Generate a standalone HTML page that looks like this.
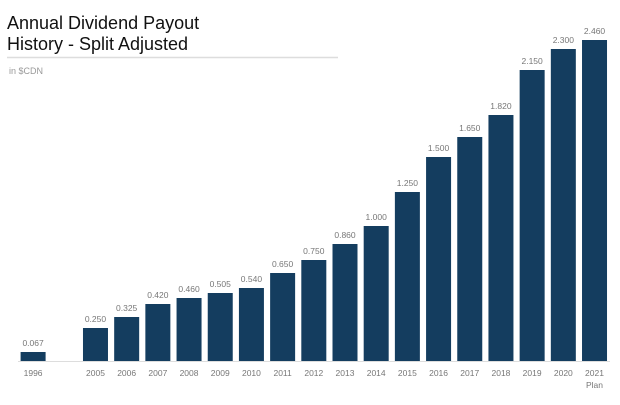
<!DOCTYPE html>
<html><head><style>
body{margin:0;width:620px;height:400px;background:#fff;overflow:hidden;font-family:"Liberation Sans",sans-serif;}
</style></head><body>
<svg width="620" height="400" xmlns="http://www.w3.org/2000/svg" font-family="Liberation Sans, sans-serif">
<text x="7" y="29" font-size="18" fill="#111">Annual Dividend Payout</text>
<text x="7" y="50" font-size="18" fill="#111">History - Split Adjusted</text>
<line x1="7" y1="57.5" x2="338" y2="57.5" stroke="#ddd" stroke-width="1.5"/>
<text x="9" y="74" font-size="9" fill="#999">in $CDN</text>
<line x1="18" y1="361.5" x2="610" y2="361.5" stroke="#ddd" stroke-width="1"/>
<g id="bars"></g>
</svg>
<script>
var d=[[0,"1996",352,"0.067"],[2,"2005",328,"0.250"],[3,"2006",317,"0.325"],[4,"2007",304,"0.420"],[5,"2008",298,"0.460"],[6,"2009",293,"0.505"],[7,"2010",288,"0.540"],[8,"2011",273,"0.650"],[9,"2012",260,"0.750"],[10,"2013",244,"0.860"],[11,"2014",226,"1.000"],[12,"2015",192,"1.250"],[13,"2016",157,"1.500"],[14,"2017",137,"1.650"],[15,"2018",115,"1.820"],[16,"2019",70,"2.150"],[17,"2020",49,"2.300"],[18,"2021",40,"2.460"]];
var g=document.getElementById("bars"),s="";
d.forEach(function(r){var x=20.6+31.19*r[0],y=r[2],h=361-y,c=x+12.5;
s+='<rect x="'+x+'" y="'+y+'" width="25" height="'+h+'" fill="#143d5f"/>';
s+='<text x="'+c+'" y="'+(y-6)+'" font-size="8.5" fill="#777" text-anchor="middle">'+r[3]+'</text>';
s+='<text x="'+c+'" y="376" font-size="8.5" fill="#777" text-anchor="middle">'+r[1]+'</text>';});
s+='<text x="'+(20.6+31.19*18+12.5)+'" y="388" font-size="8.5" fill="#777" text-anchor="middle">Plan</text>';
g.innerHTML=s;
</script>
</body></html>
